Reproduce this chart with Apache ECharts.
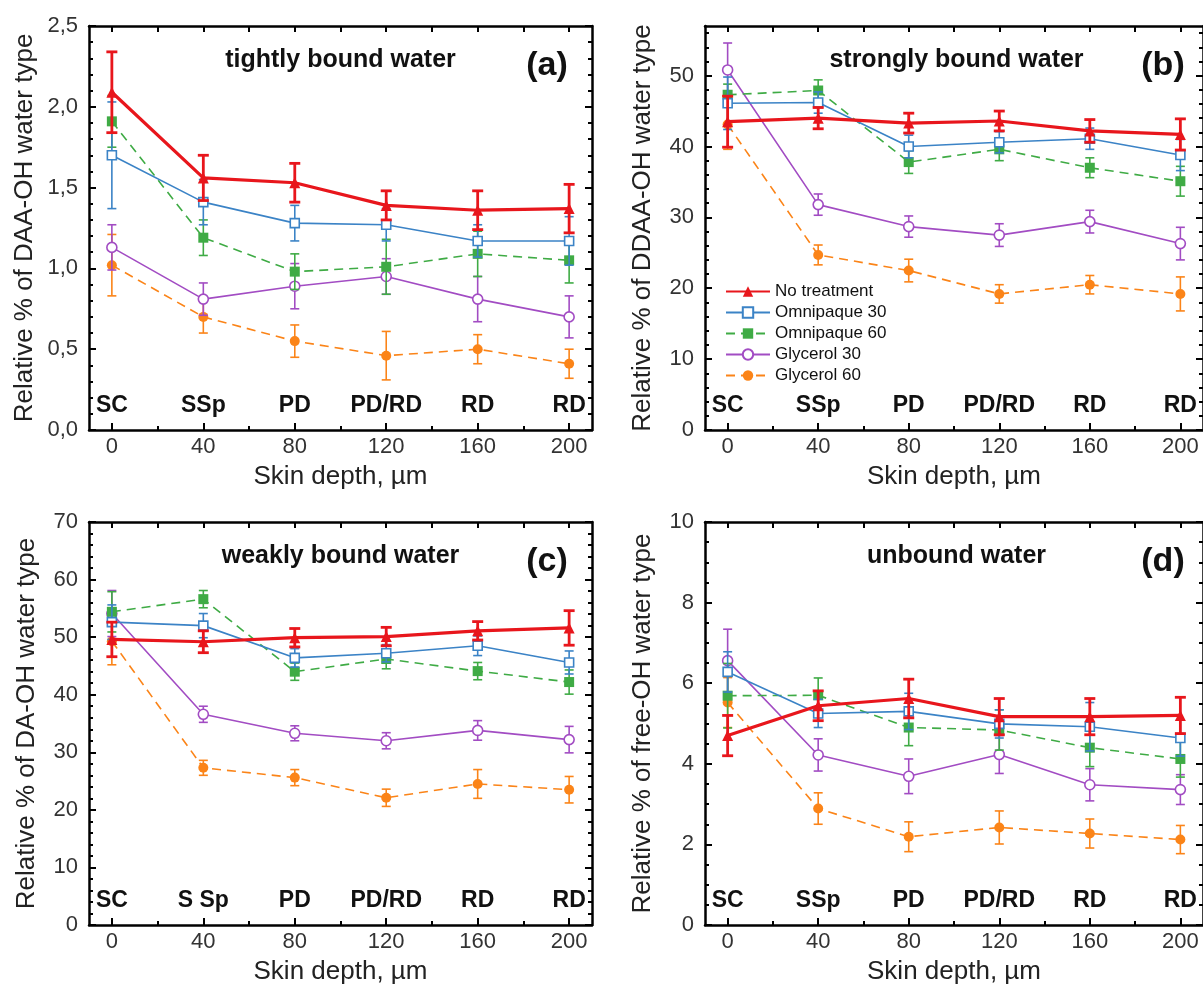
<!DOCTYPE html>
<html>
<head>
<meta charset="utf-8">
<title>Water types vs skin depth</title>
<script src="https://cdn.jsdelivr.net/npm/echarts@6/dist/echarts.min.js"></script>
<style>
  html, body { margin: 0; padding: 0; background: #ffffff; }
  #chart { width: 1203px; height: 987px; }
</style>
</head>
<body>
<div id="chart"></div>
<script>
// ---- depth axis ----
const depth = [0, 40, 80, 120, 160, 200];
const depthTicksTop = [0, 20, 40, 60, 80, 100, 120, 140, 160, 180, 200];
const depthMinorTicks = [20, 60, 100, 140, 180];
const zoneNames = ['SC', 'SSp', 'PD', 'PD/RD', 'RD', 'RD'];
const zoneNamesC = ['SC', 'S Sp', 'PD', 'PD/RD', 'RD', 'RD'];

const treatments = ['No treatment', 'Omnipaque 30', 'Omnipaque 60', 'Glycerol 30', 'Glycerol 60'];

// ---- (a) tightly bound water, DAA-OH ----  rows follow `treatments`
const daaMean = [
  [2.09, 1.56, 1.53, 1.39, 1.36, 1.37],
  [1.70, 1.41, 1.28, 1.27, 1.17, 1.17],
  [1.91, 1.19, 0.98, 1.01, 1.09, 1.05],
  [1.13, 0.81, 0.89, 0.95, 0.81, 0.70],
  [1.02, 0.70, 0.55, 0.46, 0.50, 0.41]
];
const daaErr = [
  [0.25, 0.14, 0.12, 0.09, 0.12, 0.15],
  [0.33, 0.14, 0.11, 0.10, 0.10, 0.15],
  [0.16, 0.11, 0.11, 0.17, 0.14, 0.14],
  [0.14, 0.10, 0.14, 0.11, 0.14, 0.13],
  [0.19, 0.10, 0.10, 0.15, 0.09, 0.09]
];
const daaTicks = [0, 0.5, 1, 1.5, 2, 2.5];

// ---- (b) strongly bound water, DDAA-OH ----
const ddaaMean = [
  [43.5, 44.0, 43.3, 43.6, 42.2, 41.7],
  [46.1, 46.2, 40.0, 40.6, 41.1, 38.8],
  [47.3, 47.9, 37.8, 39.6, 37.0, 35.1],
  [50.8, 31.8, 28.7, 27.5, 29.4, 26.3],
  [43.1, 24.7, 22.5, 19.2, 20.5, 19.2]
];
const ddaaErr = [
  [3.6, 1.5, 1.4, 1.4, 1.6, 2.2],
  [3.7, 1.5, 1.6, 1.5, 1.5, 2.2],
  [1.5, 1.5, 1.6, 1.6, 1.4, 2.1],
  [3.8, 1.5, 1.5, 1.6, 1.6, 2.3],
  [3.5, 1.4, 1.6, 1.3, 1.3, 2.4]
];
const ddaaTicks = [0, 10, 20, 30, 40, 50];

// ---- (c) weakly bound water, DA-OH ----
const daMean = [
  [49.6, 49.2, 49.9, 50.1, 51.1, 51.6],
  [52.6, 52.0, 46.4, 47.2, 48.5, 45.6],
  [54.4, 56.6, 44.0, 46.2, 44.1, 42.2],
  [54.1, 36.6, 33.3, 32.0, 33.8, 32.2],
  [49.3, 27.3, 25.6, 22.1, 24.5, 23.5]
];
const daErr = [
  [3.0, 1.9, 1.6, 1.6, 1.6, 3.0],
  [3.0, 2.1, 1.6, 1.5, 1.7, 2.0],
  [3.5, 1.5, 1.5, 1.7, 1.5, 2.1],
  [4.0, 1.4, 1.3, 1.4, 1.7, 2.3],
  [4.1, 1.3, 1.4, 1.5, 2.5, 2.3]
];
const daTicks = [0, 10, 20, 30, 40, 50, 60, 70];

// ---- (d) unbound water, free-OH ----
const freeMean = [
  [4.70, 5.44, 5.62, 5.17, 5.17, 5.20],
  [6.28, 5.25, 5.30, 4.99, 4.92, 4.64],
  [5.69, 5.70, 4.90, 4.84, 4.40, 4.12],
  [6.56, 4.22, 3.69, 4.23, 3.48, 3.36],
  [5.52, 2.89, 2.19, 2.42, 2.27, 2.12]
];
const freeErr = [
  [0.50, 0.37, 0.48, 0.45, 0.45, 0.45],
  [0.50, 0.35, 0.45, 0.35, 0.60, 0.45],
  [0.80, 0.43, 0.45, 0.50, 0.47, 0.45],
  [0.78, 0.40, 0.43, 0.47, 0.40, 0.37],
  [0.62, 0.39, 0.37, 0.41, 0.36, 0.35]
];
const freeTicks = [0, 2, 4, 6, 8, 10];

// ---- appearance ----
const FONT = "'Liberation Sans', Arial, Helvetica, sans-serif";
const styles = [
  { color: '#e8161c', width: 3.2, dash: 'solid', symbol: 'triangle', size: 11, hollow: false, errW: 2.8, cap: 5.5, z: 9 },
  { color: '#3b83c6', width: 1.6, dash: 'solid', symbol: 'rect', size: 9, hollow: true, errW: 1.6, cap: 4.5, z: 8 },
  { color: '#3fab45', width: 1.6, dash: [9, 6], symbol: 'rect', size: 10, hollow: false, errW: 1.6, cap: 4.5, z: 7 },
  { color: '#a24cc3', width: 1.6, dash: 'solid', symbol: 'circle', size: 10, hollow: true, errW: 1.6, cap: 4.5, z: 6 },
  { color: '#fb8418', width: 1.6, dash: [9, 6], symbol: 'circle', size: 10, hollow: false, errW: 1.6, cap: 4.5, z: 5 }
];

function minorTicks(step, max, perMajor) {
  const out = [];
  const n = Math.floor(max / step + 1e-9);
  for (let k = 1; k <= n; k++) {
    if (k % perMajor !== 0) out.push(+(k * step).toFixed(4));
  }
  return out;
}

const panels = [
  { grid: { left: 89, top: 26, width: 503, height: 404 }, yMax: 2.5, ticks: daaTicks,
    minor: minorTicks(0.1, 2.5, 5), fmt: v => v.toFixed(1).replace('.', ','),
    yName: 'Relative % of DAA-OH water type', nameGap: 51, zones: zoneNames,
    mean: daaMean, err: daaErr, title: 'tightly bound water', tag: '(a)' },
  { grid: { left: 705, top: 26, width: 503, height: 404 }, yMax: 57, ticks: ddaaTicks,
    minor: minorTicks(2, 57, 5), fmt: v => String(v),
    yName: 'Relative % of DDAA-OH water type', nameGap: 49, zones: zoneNames,
    mean: ddaaMean, err: ddaaErr, title: 'strongly bound water', tag: '(b)' },
  { grid: { left: 89, top: 522, width: 503, height: 403 }, yMax: 70, ticks: daTicks,
    minor: minorTicks(2, 70, 5), fmt: v => String(v),
    yName: 'Relative % of DA-OH water type', nameGap: 49, zones: zoneNamesC,
    mean: daMean, err: daErr, title: 'weakly bound water', tag: '(c)' },
  { grid: { left: 705, top: 522, width: 503, height: 403 }, yMax: 10, ticks: freeTicks,
    minor: minorTicks(0.5, 10, 4), fmt: v => String(v),
    yName: 'Relative % of free-OH water type', nameGap: 49, zones: zoneNames,
    mean: freeMean, err: freeErr, title: 'unbound water', tag: '(d)' }
];

const frameLine = { color: '#000', width: 2.5 };
const tickLine = { color: '#000', width: 2 };

const grid = [], xAxis = [], yAxis = [], series = [], graphic = [];

panels.forEach((p, gi) => {
  grid.push(Object.assign({ containLabel: false }, p.grid));
  const xi = xAxis.length;
  // bottom axis: depth labels + major ticks
  xAxis.push({
    gridIndex: gi, type: 'value', min: -10, max: 210, position: 'bottom',
    name: 'Skin depth, \u00b5m', nameLocation: 'middle', nameGap: 34,
    nameTextStyle: { fontFamily: FONT, fontSize: 26, color: '#222' },
    axisLine: { onZero: false, lineStyle: frameLine },
    axisTick: { inside: true, length: 7, customValues: depth, lineStyle: tickLine },
    axisLabel: { customValues: depth, margin: 6, fontFamily: FONT, fontSize: 22, color: '#333' },
    splitLine: { show: false }
  });
  // bottom axis: minor ticks and skin-layer names inside the plot
  xAxis.push({
    gridIndex: gi, type: 'value', min: -10, max: 210, position: 'bottom',
    axisLine: { show: false, onZero: false },
    axisTick: { inside: true, length: 4, customValues: depthMinorTicks, lineStyle: tickLine },
    axisLabel: {
      inside: true, customValues: depth, margin: 13,
      formatter: v => p.zones[depth.indexOf(v)],
      fontFamily: FONT, fontWeight: 'bold', fontSize: 23, color: '#111'
    },
    splitLine: { show: false }
  });
  // top frame
  xAxis.push({
    gridIndex: gi, type: 'value', min: -10, max: 210, position: 'top',
    axisLine: { onZero: false, lineStyle: frameLine },
    axisTick: { inside: true, length: 6, customValues: depthTicksTop, lineStyle: tickLine },
    axisLabel: { show: false }, splitLine: { show: false }
  });

  const yi = yAxis.length;
  yAxis.push({
    gridIndex: gi, type: 'value', min: 0, max: p.yMax, position: 'left',
    name: p.yName, nameLocation: 'middle', nameGap: p.nameGap,
    nameTextStyle: { fontFamily: FONT, fontSize: 26, color: '#222' },
    axisLine: { onZero: false, lineStyle: frameLine },
    axisTick: { inside: true, length: 7, customValues: p.ticks, lineStyle: tickLine },
    axisLabel: { customValues: p.ticks, formatter: p.fmt, margin: 11, fontFamily: FONT, fontSize: 22, color: '#333' },
    splitLine: { show: false }
  });
  yAxis.push({
    gridIndex: gi, type: 'value', min: 0, max: p.yMax, position: 'left',
    axisLine: { show: false, onZero: false },
    axisTick: { inside: true, length: 4, customValues: p.minor, lineStyle: tickLine },
    axisLabel: { show: false }, splitLine: { show: false }
  });
  yAxis.push({
    gridIndex: gi, type: 'value', min: 0, max: p.yMax, position: 'right',
    axisLine: { onZero: false, lineStyle: frameLine },
    axisTick: { inside: true, length: 7, customValues: p.ticks, lineStyle: tickLine },
    axisLabel: { show: false }, splitLine: { show: false }
  });
  yAxis.push({
    gridIndex: gi, type: 'value', min: 0, max: p.yMax, position: 'right',
    axisLine: { show: false, onZero: false },
    axisTick: { inside: true, length: 4, customValues: p.minor, lineStyle: tickLine },
    axisLabel: { show: false }, splitLine: { show: false }
  });

  // mean curves
  treatments.forEach((name, si) => {
    const s = styles[si];
    series.push({
      type: 'line', name, xAxisIndex: xi, yAxisIndex: yi,
      data: depth.map((d, i) => [d, p.mean[si][i]]),
      symbol: s.symbol, symbolSize: s.size, showSymbol: true,
      lineStyle: { color: s.color, width: s.width, type: s.dash },
      itemStyle: { color: s.hollow ? '#ffffff' : s.color, borderColor: s.color, borderWidth: s.hollow ? 1.6 : 0 },
      emphasis: { disabled: true }, z: s.z
    });
  });
  // error bars
  treatments.forEach((name, si) => {
    const s = styles[si];
    series.push({
      type: 'custom', name, xAxisIndex: xi, yAxisIndex: yi,
      data: depth.map((d, i) => [d, p.mean[si][i] - p.err[si][i], p.mean[si][i] + p.err[si][i]]),
      encode: { x: 0, y: [1, 2] },
      z: s.z - 0.5,
      renderItem: (params, api) => {
        const x = api.value(0);
        const lo = api.coord([x, api.value(1)]);
        const hi = api.coord([x, api.value(2)]);
        const cap = s.cap;
        const st = { stroke: s.color, lineWidth: s.errW, fill: null };
        return {
          type: 'group',
          children: [
            { type: 'line', shape: { x1: lo[0], y1: lo[1], x2: hi[0], y2: hi[1] }, style: st },
            { type: 'line', shape: { x1: lo[0] - cap, y1: lo[1], x2: lo[0] + cap, y2: lo[1] }, style: st },
            { type: 'line', shape: { x1: hi[0] - cap, y1: hi[1], x2: hi[0] + cap, y2: hi[1] }, style: st }
          ]
        };
      }
    });
  });

  // panel heading and letter
  const cx = p.grid.left + p.grid.width / 2;
  graphic.push({
    type: 'text', x: cx, y: p.grid.top + 34, z: 20,
    style: { text: p.title, fontFamily: FONT, fontWeight: 'bold', fontSize: 25, fill: '#111', align: 'center', verticalAlign: 'middle' }
  });
  graphic.push({
    type: 'text', x: p.grid.left + 458, y: p.grid.top + 40, z: 20,
    style: { text: p.tag, fontFamily: FONT, fontWeight: 'bold', fontSize: 34, fill: '#111', align: 'center', verticalAlign: 'middle' }
  });
});

const chart = echarts.init(document.getElementById('chart'), null, { renderer: 'canvas' });
chart.setOption({
  animation: false,
  backgroundColor: '#ffffff',
  grid, xAxis, yAxis, series, graphic,
  legend: {
    data: treatments, orient: 'vertical', left: 720, top: 278,
    itemWidth: 44, itemHeight: 13, itemGap: 4,
    textStyle: { fontFamily: FONT, fontSize: 17, color: '#111' },
    selectedMode: false
  }
});
</script>
</body>
</html>
